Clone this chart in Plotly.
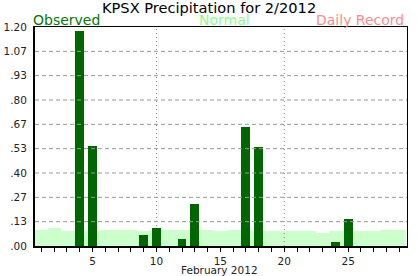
import plotly.graph_objects as go

# ---- data ----
days = list(range(1, 30))
observed = [0, 0, 0, 1.18, 0.55, 0, 0, 0, 0.06, 0.10,
            0, 0.04, 0.23, 0, 0, 0, 0.65, 0.54, 0, 0,
            0, 0, 0, 0.02, 0.15, 0, 0, 0, 0]
normal = [0.09, 0.10, 0.08, 0.08, 0.08, 0.09, 0.09, 0.09, 0.08, 0.09,
          0.09, 0.09, 0.09, 0.09, 0.08, 0.09, 0.09, 0.08, 0.08, 0.08,
          0.08, 0.08, 0.07, 0.08, 0.08, 0.08, 0.08, 0.09, 0.09]
y_tick_text = [".00", ".13", ".27", ".40", ".53", ".67", ".80", ".93", "1.07", "1.20"]
y_max = 1.2
y_tick_vals = [y_max * i / 9 for i in range(10)]
x_tick_text = [str(d) if d % 5 == 0 else "" for d in days]
v_grid_days = [10, 20]

FONT = "DejaVu Sans"
OBS_COLOR = "#006600"
NORM_COLOR = "#ccffcc"

fig = go.Figure()

# normal (background fill) on main axes
fig.add_trace(go.Bar(x=days, y=normal, width=1.0, marker=dict(color=NORM_COLOR, line=dict(width=0)),
                     xaxis="x", yaxis="y", hoverinfo="skip", showlegend=False))
# vertical dotted gridlines (above normal fill, below observed bars)
for d in v_grid_days:
    fig.add_trace(go.Scatter(x=[d, d], y=[0, y_max], mode="lines",
                             line=dict(color="#888888", width=1, dash="1px,3px"),
                             xaxis="x", yaxis="y", hoverinfo="skip", showlegend=False))
# observed bars on overlay axes
fig.add_trace(go.Bar(x=days, y=observed, width=0.7, marker=dict(color=OBS_COLOR, line=dict(width=0)),
                     xaxis="x2", yaxis="y2", showlegend=False))

# horizontal dashed gridlines above everything
for v in y_tick_vals[1:-1]:
    fig.add_shape(type="line", xref="paper", x0=0, x1=1, yref="y", y0=v, y1=v,
                  line=dict(color="#999999", width=1, dash="4px,3px"), layer="above")

x_range = [0.5, 29.6]
fig.update_layout(
    width=417, height=276,
    margin=dict(l=35, r=10, t=27, b=30, autoexpand=False),
    paper_bgcolor="white", plot_bgcolor="white",
    barmode="overlay", bargap=0,
    font=dict(family=FONT, color="#222222"),
    xaxis=dict(range=x_range, tickvals=days, ticktext=x_tick_text, ticks="outside",
               ticklen=4, tickcolor="black", tickwidth=1, showgrid=False, zeroline=False,
               showline=True, linecolor="black", linewidth=2, mirror=False, automargin=False,
               tickfont=dict(size=10.5, family=FONT, color="#222222"), fixedrange=True),
    yaxis=dict(range=[0, y_max], tickvals=y_tick_vals, ticktext=y_tick_text, ticks="outside",
               ticklen=4, tickcolor="rgba(0,0,0,0)", automargin=False,
               showgrid=False, zeroline=False, showline=True, linecolor="black", linewidth=2,
               mirror=False, tickfont=dict(size=10.5, family=FONT, color="#222222"), fixedrange=True),
    xaxis2=dict(range=x_range, overlaying="x", side="top", showline=True, linecolor="black",
                linewidth=1, showticklabels=False, ticks="", showgrid=False, zeroline=False),
    yaxis2=dict(range=[0, y_max], overlaying="y", side="right", showline=True, linecolor="black",
                linewidth=1, showticklabels=False, ticks="", showgrid=False, zeroline=False),
)

ann = [
    dict(text="KPSX Precipitation for 2/2012", x=0.4664, y=1.091, font=dict(size=14.6, color="black")),
    dict(text="Observed", x=-0.011, y=1.034, xanchor="left", font=dict(size=14, color="#007a00")),
    dict(text="Normal", x=0.509, y=1.034, font=dict(size=14, color="#88ff88")),
    dict(text="Daily Record", x=0.997, y=1.034, xanchor="right", font=dict(size=14, color="#ff8c8c")),
    dict(text="February 2012", x=0.497, y=-0.11, font=dict(size=10.5, color="#222222")),
]
for a in ann:
    a.setdefault("xanchor", "center")
    fig.add_annotation(xref="paper", yref="paper", showarrow=False, yanchor="middle",
                       font_family=FONT, **{k: v for k, v in a.items()})

fig.write_html("out.html")
